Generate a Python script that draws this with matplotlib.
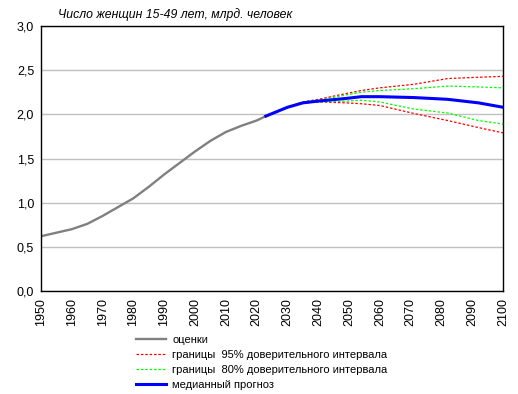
import matplotlib.pyplot as plt

plt.rcParams['font.family'] = ['Liberation Sans', 'DejaVu Sans']

# estimates (grey line)
est_years = [1950, 1955, 1960, 1965, 1970, 1975, 1980, 1985, 1990, 1995,
             2000, 2005, 2010, 2015, 2020, 2023]
est_vals = [0.62, 0.66, 0.70, 0.76, 0.85, 0.95, 1.05, 1.18, 1.32, 1.45,
            1.58, 1.70, 1.80, 1.87, 1.93, 1.98]

# forecast
fc_years = [2023, 2030, 2035, 2040, 2049, 2054, 2060, 2071, 2082, 2092, 2100]
median = [1.98, 2.08, 2.13, 2.15, 2.18, 2.20, 2.20, 2.19, 2.17, 2.13, 2.08]
hi95 = [1.98, 2.08, 2.14, 2.17, 2.235, 2.27, 2.30, 2.34, 2.405, 2.42, 2.43]
lo95 = [1.98, 2.08, 2.13, 2.14, 2.13, 2.12, 2.10, 2.01, 1.93, 1.85, 1.79]
hi80 = [1.98, 2.08, 2.14, 2.16, 2.22, 2.25, 2.27, 2.29, 2.32, 2.31, 2.30]
lo80 = [1.98, 2.08, 2.13, 2.14, 2.15, 2.16, 2.14, 2.06, 2.015, 1.93, 1.89]

xticks = list(range(1950, 2101, 10))
yticks = [0.0, 0.5, 1.0, 1.5, 2.0, 2.5, 3.0]

fig = plt.figure(figsize=(5.18, 3.94), dpi=100)
ax = fig.add_axes([0.0792, 0.2614, 0.892, 0.6726])

dash = (0, (2, 1.5))
ax.plot(est_years, est_vals, color='#808080', lw=1.7, label='оценки')
ax.plot(fc_years, hi95, color='red', lw=0.9, ls=dash,
        label='границы  95% доверительного интервала')
ax.plot(fc_years, lo95, color='red', lw=0.9, ls=dash)
ax.plot(fc_years, hi80, color='#00ff00', lw=0.9, ls=dash,
        label='границы  80% доверительного интервала')
ax.plot(fc_years, lo80, color='#00ff00', lw=0.9, ls=dash)
ax.plot(fc_years, median, color='blue', lw=2.2, label='медианный прогноз')

ax.set_xlim(1950, 2100)
ax.set_ylim(0, 3)
ax.set_xticks(xticks)
ax.set_xticklabels([str(x) for x in xticks], rotation=90, fontsize=9)
ax.set_yticks(yticks)
ax.set_yticklabels([f'{v:.1f}'.replace('.', ',') for v in yticks], fontsize=9)
ax.tick_params(length=0, pad=5)
ax.grid(axis='y', color='#c0c0c0', lw=1)
ax.set_axisbelow(True)
for sp in ax.spines.values():
    sp.set_color('black')
    sp.set_linewidth(1)

fig.text(0.338, 0.964, 'Число женщин 15-49 лет, млрд. человек', fontsize=8.8,
         style='italic', ha='center', va='center')

fig.legend(loc='lower left', bbox_to_anchor=(0.247, -0.01), frameon=False,
           fontsize=8, handlelength=2.7, handletextpad=0.6, labelspacing=0.45,
           borderpad=0.2)

fig.savefig('out.png', dpi=100)
